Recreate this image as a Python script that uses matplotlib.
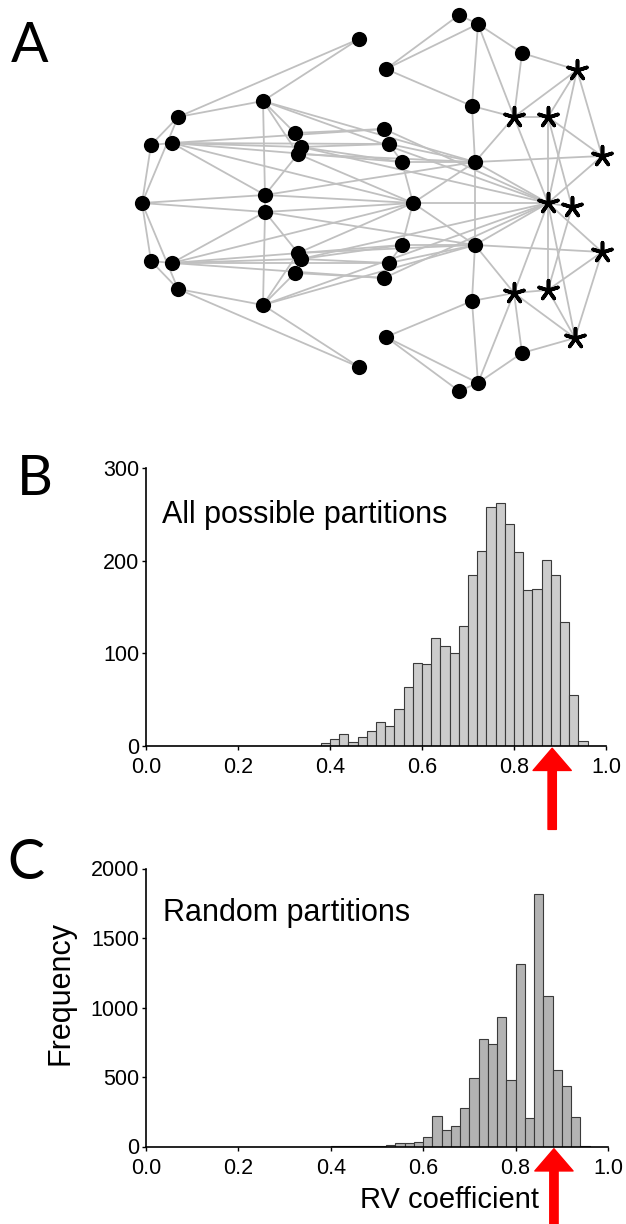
import numpy as np
import matplotlib.pyplot as plt

plt.rcParams['font.family'] = ['Liberation Sans', 'DejaVu Sans']

# ---- panel A: landmark graph (pixel positions) ----
nodes = {
    'L1': (263, 101), 'L2': (178, 117), 'L3': (151, 145), 'L4': (172, 143),
    'L5': (295, 133), 'L6': (301, 147), 'L7': (298, 154), 'L8': (265, 195),
    'R1': (359, 39), 'R2': (386, 69), 'R3': (459, 15), 'R4': (478, 24),
    'R5': (522, 53), 'R6': (472, 106), 'R7': (384, 129), 'R8': (389, 144),
    'R9': (402, 162), 'R10': (475, 162),
    'S1': (577, 70), 'S2': (514, 117), 'S3': (548, 117), 'S4': (602, 156),
    'L1b': (263, 305), 'L2b': (178, 289), 'L3b': (151, 261), 'L4b': (172, 263),
    'L5b': (295, 273), 'L6b': (301, 259), 'L7b': (298, 253), 'L8b': (265, 212),
    'R1b': (359, 367), 'R2b': (386, 337), 'R3b': (459, 391), 'R4b': (478, 383),
    'R5b': (522, 353), 'R6b': (472, 301), 'R7b': (384, 278), 'R8b': (389, 263),
    'R9b': (402, 245), 'R10b': (475, 245),
    'S1b': (575, 338), 'S2b': (514, 293), 'S3b': (548, 290), 'S4b': (602, 252),
    'M0': (142, 203), 'R11': (413, 203), 'S5': (548, 203), 'S6': (572, 207),
}
star_nodes = ['S1', 'S2', 'S3', 'S4', 'S5', 'S6', 'S1b', 'S2b', 'S3b', 'S4b']

# edges of the upper half, the lower half is the mirror image
upper_edges = [
    ('L1', 'L2'), ('L2', 'R1'), ('L1', 'R1'), ('L2', 'L3'), ('L2', 'M0'),
    ('L3', 'L4'), ('L3', 'M0'),
    ('L4', 'R7'), ('L4', 'R8'), ('L4', 'L6'), ('L4', 'R9'), ('L4', 'R11'), ('L4', 'L8'),
    ('L1', 'L5'), ('L1', 'L7'), ('L1', 'L8'), ('L1', 'R10'), ('L1', 'S5'),
    ('M0', 'L8'), ('L8', 'L7'), ('L8', 'R10'), ('L8', 'R11'),
    ('L5', 'R7'), ('L6', 'R8'), ('L6', 'R9'), ('L7', 'R10'), ('L7', 'R11'), ('L6', 'S5'),
    ('R7', 'S5'), ('R8', 'R9'), ('R8', 'R10'), ('R9', 'R11'), ('R9', 'R10'), ('R10', 'R11'),
    ('R2', 'R3'), ('R2', 'R4'), ('R2', 'R6'), ('R3', 'R4'), ('R4', 'R5'), ('R4', 'R6'),
    ('R4', 'S2'), ('R5', 'S1'), ('R5', 'S2'), ('R6', 'S2'), ('R6', 'R10'),
    ('S2', 'S3'), ('S1', 'S2'), ('S2', 'S5'), ('S1', 'S3'), ('S1', 'S4'), ('S1', 'S5'),
    ('S3', 'S4'), ('S3', 'S5'), ('S3', 'S6'),
    ('R10', 'S4'), ('R10', 'S5'), ('R10', 'S2'), ('S4', 'S5'),
]
center_edges = [('L8', 'L8b'), ('R10', 'R10b'), ('R11', 'S5'), ('S5', 'S6')]

# ---- panels B and C: histograms of RV coefficient, bins of 0.02 from 0 to 1 ----
bin_left = np.arange(0, 1, 0.02)
counts_all = [0, 0, 0, 0, 0, 0, 0, 0, 0, 0,
              0, 0, 0, 0, 0, 0, 0, 0, 0, 3,
              8, 13, 4, 10, 16, 26, 22, 40, 64, 90,
              89, 117, 108, 100, 130, 185, 210, 258, 262, 240,
              209, 168, 169, 201, 185, 134, 55, 5, 0, 0]
counts_random = [0, 0, 0, 0, 0, 0, 0, 0, 0, 0,
                 0, 0, 0, 0, 0, 0, 0, 0, 0, 0,
                 3, 2, 3, 4, 4, 6, 10, 24, 24, 31,
                 65, 218, 120, 146, 276, 490, 773, 739, 931, 478,
                 1313, 206, 1814, 1082, 550, 432, 209, 5, 0, 0]
observed_rv = 0.883


def mirror(name):
    return name + 'b' if name + 'b' in nodes else name


W, H = 626, 1224
fig = plt.figure(figsize=(W / 100, H / 100), dpi=100)

# panel A
axA = fig.add_axes([0, 1 - 410 / H, 1, 410 / H])
axA.set_xlim(0, W)
axA.set_ylim(410, 0)
axA.axis('off')
edges = upper_edges + [(mirror(a), mirror(b)) for a, b in upper_edges] + center_edges
for a, b in edges:
    axA.plot([nodes[a][0], nodes[b][0]], [nodes[a][1], nodes[b][1]],
             color='#c0c0c0', lw=1.3, zorder=1, solid_capstyle='round')
dots = [n for n in nodes if n not in star_nodes]
axA.scatter([nodes[n][0] for n in dots], [nodes[n][1] for n in dots],
            s=120, color='black', zorder=3, linewidths=0)
axA.scatter([nodes[n][0] for n in star_nodes], [nodes[n][1] for n in star_nodes],
            s=200, marker=(5, 2, 0), color='black', zorder=3, linewidths=2.6)


def hist_panel(rect, counts, color, ymax, yticks):
    ax = fig.add_axes(rect)
    ax.bar(bin_left, counts, width=0.02, align='edge', color=color,
           edgecolor='#3a3a3a', linewidth=0.8, zorder=2)
    ax.set_xlim(0, 1)
    ax.set_ylim(0, ymax)
    ax.set_xticks([0, 0.2, 0.4, 0.6, 0.8, 1.0])
    ax.set_xticklabels(['0.0', '0.2', '0.4', '0.6', '0.8', '1.0'])
    ax.set_yticks(yticks)
    for s in ['top', 'right']:
        ax.spines[s].set_visible(False)
    for s in ['left', 'bottom']:
        ax.spines[s].set_linewidth(1.2)
    ax.tick_params(axis='both', direction='out', length=3, width=1, labelsize=15.5)
    ax.tick_params(axis='x', pad=5)
    ax.tick_params(axis='y', pad=2)
    # red arrow marking the observed partition
    ax.annotate('', xy=(observed_rv, -0.008), xycoords=('data', 'axes fraction'),
                xytext=(observed_rv, -0.3), textcoords=('data', 'axes fraction'),
                arrowprops=dict(arrowstyle='simple,head_length=1.6,head_width=2.75,tail_width=0.6',
                                color='red', shrinkA=0, shrinkB=0, mutation_scale=10),
                annotation_clip=False)
    return ax


axB = hist_panel([146 / W, (H - 746) / H, 460 / W, 278 / H], counts_all,
                 '#cccccc', 300, [0, 100, 200, 300])
axC = hist_panel([146 / W, (H - 1146.5) / H, 462 / W, 278 / H], counts_random,
                 '#b3b3b3', 2000, [0, 500, 1000, 1500, 2000])

fig.text(162 / W, 1 - 523 / H, 'All possible partitions', fontsize=22, va='baseline')
fig.text(163 / W, 1 - 921 / H, 'Random partitions', fontsize=22, va='baseline')
fig.text(61 / W, 1 - 993 / H, 'Frequency', fontsize=22, rotation=90, ha='center', va='center')
fig.text(450 / W, 1 - 1208 / H, 'RV coefficient', fontsize=21, ha='center', va='baseline')

letter_font = ['Lato', 'DejaVu Sans']
fig.text(11 / W, 1 - 62 / H, 'A', fontsize=40, family=letter_font, va='baseline')
fig.text(17 / W, 1 - 495 / H, 'B', fontsize=40, family=letter_font, va='baseline')
fig.text(7 / W, 1 - 879 / H, 'C', fontsize=40, family=letter_font, va='baseline')

fig.savefig('out.png', dpi=100)
